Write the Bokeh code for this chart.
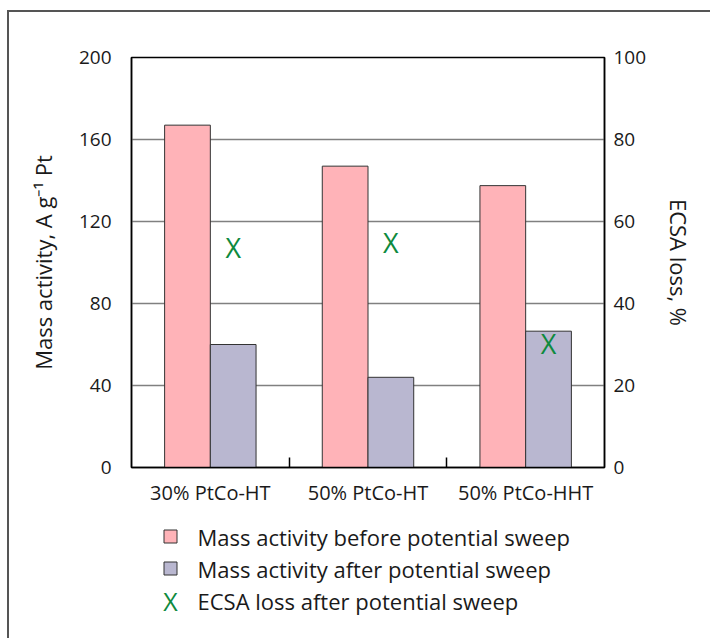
from bokeh.plotting import figure
from bokeh.layouts import column
from bokeh.models import Range1d, LinearAxis, FixedTicker
from bokeh.core.properties import value
from bokeh.embed import file_html
from bokeh.resources import INLINE

# ---- data ----
categories = ["30% PtCo-HT", "50% PtCo-HT", "50% PtCo-HHT"]
mass_before = [167, 147, 137.5]
mass_after = [60, 44, 66.5]
ecsa_loss = [53.7, 55, 30.3]
left_ticks = [0, 40, 80, 120, 160, 200]
right_ticks = [0, 20, 40, 60, 80, 100]
legend_labels = ["Mass activity before potential sweep",
                 "Mass activity after potential sweep",
                 "ECSA loss after potential sweep"]

FONT = "Open Sans"
PINK = "#FFB3B8"
PURPLE = "#B9B7D0"
GREEN = "#0E8A3E"
TXT = "#1a1a1a"
W = 710
H1 = 512
H2 = 126
FL, FR, FT, FB = 131, 604, 57, 467

p = figure(width=W, height=H1, x_range=Range1d(0, 3), y_range=Range1d(0, 200),
           output_backend="svg", toolbar_location=None,
           min_border_left=FL, min_border_right=W - FR,
           min_border_top=FT, min_border_bottom=H1 - FB)
p.border_fill_alpha = 0
p.background_fill_color = "white"
p.outline_line_color = "black"
p.outline_line_width = 1.5
p.extra_y_ranges = {"ecsa": Range1d(0, 100)}

n = len(categories)
centers = [i + 0.5 for i in range(n)]
bw = 0.29
xb = [c - bw / 2 for c in centers]
xa = [c + bw / 2 for c in centers]

r1 = p.vbar(x=xb, top=mass_before, bottom=0, width=bw, fill_color=PINK,
            line_color="#333333", line_width=1)
r2 = p.vbar(x=xa, top=mass_after, bottom=0, width=bw, fill_color=PURPLE,
            line_color="#333333", line_width=1)
p.text(x=xa, y=ecsa_loss, text=["X"] * n, y_range_name="ecsa",
       text_color=GREEN, text_font=value(FONT), text_font_size="27px",
       text_align="center", text_baseline="middle")

# grid
p.xgrid.visible = False
p.ygrid.ticker = FixedTicker(ticks=left_ticks)
p.ygrid.grid_line_color = "#808080"
p.ygrid.grid_line_width = 1.5

# x axis
xax = p.xaxis[0]
xax.ticker = FixedTicker(ticks=centers, minor_ticks=[1, 2])
xax.major_label_overrides = {c: lab for c, lab in zip(centers, categories)}
xax.major_tick_in = 0
xax.major_tick_out = 0
xax.minor_tick_in = 10
xax.minor_tick_out = 0
xax.minor_tick_line_color = "black"
xax.minor_tick_line_width = 1.5
xax.axis_line_color = "black"
xax.axis_line_width = 1.5
xax.major_label_text_font = FONT
xax.major_label_text_font_size = "20px"
xax.major_label_text_color = TXT
xax.major_label_standoff = 11

# left axis
yax = p.yaxis[0]
yax.ticker = FixedTicker(ticks=left_ticks)
yax.axis_label = "Mass activity, A g\u207b\u00b9 Pt"
yax.major_tick_in = 0
yax.major_tick_out = 0
yax.minor_tick_line_color = None
yax.axis_line_color = "black"
yax.axis_line_width = 1.5
yax.major_label_text_font = FONT
yax.major_label_text_font_size = "19px"
yax.major_label_text_color = TXT
yax.major_label_standoff = 20
yax.axis_label_text_font = FONT
yax.axis_label_text_font_size = "22px"
yax.axis_label_text_font_style = "normal"
yax.axis_label_text_color = TXT
yax.axis_label_standoff = 18

# right axis
rax = LinearAxis(y_range_name="ecsa", ticker=FixedTicker(ticks=right_ticks))
rax.axis_label = "ECSA loss, %"
rax.major_tick_in = 0
rax.major_tick_out = 0
rax.minor_tick_line_color = None
rax.axis_line_color = "black"
rax.axis_line_width = 1.5
rax.major_label_text_font = FONT
rax.major_label_text_font_size = "19px"
rax.major_label_text_color = TXT
rax.major_label_standoff = 9
rax.axis_label_text_font = FONT
rax.axis_label_text_font_size = "22px"
rax.axis_label_text_font_style = "normal"
rax.axis_label_text_color = TXT
rax.axis_label_standoff = 15
p.add_layout(rax, "right")

# ---- legend panel (its own figure, x in page pixels) ----
p2 = figure(width=W, height=H2, x_range=Range1d(FL, FR), y_range=Range1d(H2, 0),
            output_backend="svg", toolbar_location=None,
            min_border_left=FL, min_border_right=W - FR,
            min_border_top=0, min_border_bottom=0)
p2.axis.visible = False
p2.grid.visible = False
p2.outline_line_color = None
p2.border_fill_alpha = 0
p2.background_fill_alpha = 0

row_y = [24, 56, 88]
mark_x = 170
text_x = 197
p2.rect(x=[mark_x, mark_x], y=row_y[:2], width=13, height=13,
        fill_color=[PINK, PURPLE], line_color="#333333", line_width=1)
p2.text(x=[mark_x], y=[row_y[2]], text=["X"], text_color=GREEN,
        text_font=value(FONT), text_font_size="25px",
        text_align="center", text_baseline="middle")
p2.text(x=[text_x] * 3, y=row_y, text=legend_labels, text_color=TXT,
        text_font=value(FONT), text_font_size="22px",
        text_align="left", text_baseline="middle")

layout = column(p, p2, spacing=0, styles={
    "background": "linear-gradient(#555555, #555555) 7px 10px / 100% 2px no-repeat, "
                  "linear-gradient(#555555, #555555) 7px 10px / 2px 100% no-repeat"})

open("out.html", "w").write(file_html(layout, INLINE))
